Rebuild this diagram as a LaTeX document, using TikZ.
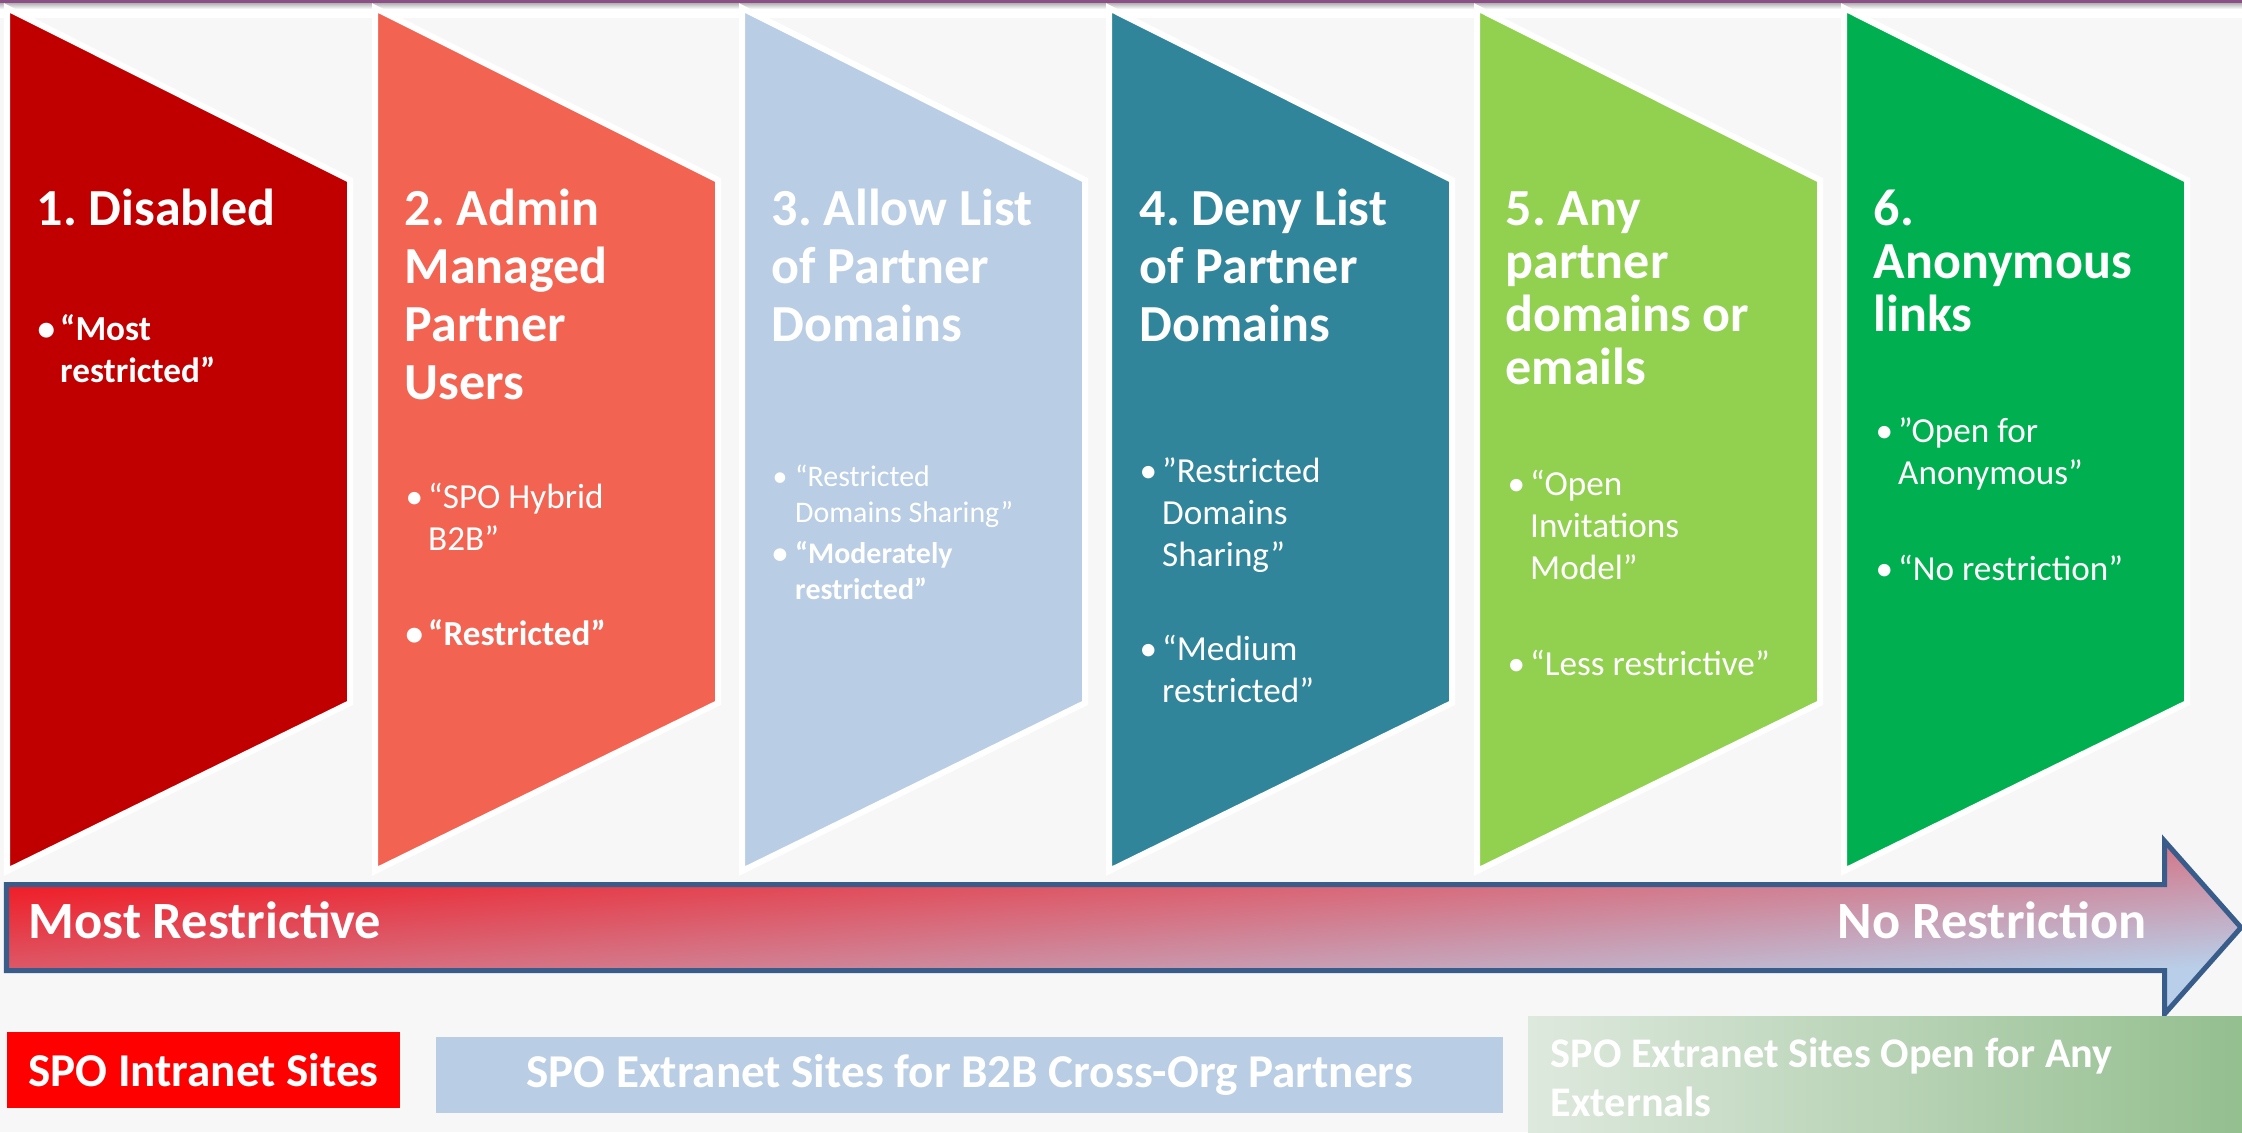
\documentclass[tikz,border=0pt]{standalone}
\usepackage{fontspec}
\setmainfont{Carlito}
\usepackage{tikz}
\usepackage{xcolor}
\usetikzlibrary{shapes,calc}
\definecolor{disred}{RGB}{192,0,0}
\definecolor{adminred}{RGB}{242,99,82}
\definecolor{allowblue}{RGB}{185,205,229}
\definecolor{denyteal}{RGB}{49,133,155}
\definecolor{anylime}{RGB}{146,208,80}
\definecolor{anongreen}{RGB}{0,176,80}
\definecolor{arrowline}{RGB}{56,93,138}
\definecolor{arrowred}{RGB}{238,34,44}
\definecolor{arrowmid}{RGB}{205,120,145}
\definecolor{arrowblue}{RGB}{185,206,232}
\definecolor{pagegray}{RGB}{247,247,247}
\definecolor{topline}{RGB}{140,80,135}
\definecolor{intrared}{RGB}{255,0,0}
\definecolor{palegreen}{RGB}{222,233,222}
\definecolor{sagegreen}{RGB}{147,190,142}
\frenchspacing

\newcommand{\lines}[1]{\parbox[t]{8cm}{\raggedright #1}}
\newcommand{\bul}[1]{\makebox[0.225cm][l]{\textbullet}\lines{#1}}
\newcommand{\titlefont}{\fontsize{14.8}{16.5}\selectfont\bfseries}
\newcommand{\bulfont}{\fontsize{10}{11.95}\selectfont}

\begin{document}
\begin{tikzpicture}[x=0.01cm, y=-0.01cm,
  panel/.style={draw=white, line width=0.06cm},
  title/.style={anchor=base west, inner sep=0, text=white, font=\titlefont},
  bullets/.style={anchor=base west, inner sep=0, text=white, font=\bulfont},
  arrowtext/.style={inner sep=0, text=white, font=\fontsize{14.9}{16}\selectfont\bfseries},
  sitebox/.style={inner sep=0, text=white, font=\fontsize{13.4}{15}\selectfont\bfseries}]
\useasboundingbox (0,0) rectangle (2242,1132);
\fill[pagegray] (0,0) rectangle (2242,1132);

% Top
\fill[white] (0,0) rectangle (2242,18);
\shade[top color=black!35, bottom color=white] (0,2) rectangle (2242,9);
\fill[topline] (0,0) rectangle (2242,2.5);

% Panels
\foreach \l/\c in {7/disred, 375/adminred, 742/allowblue, 1109/denyteal, 1477/anylime, 1844/anongreen}
  \draw[panel, fill=\c] (\l,8) -- ++(343,172) -- ++(0,523) -- ++(-343,168) -- cycle;

\node[title] (t1) at (36,225) {\lines{1. Disabled}};
\node[title] (t2) at (404,225) {\lines{2. Admin\\Managed\\Partner\\Users}};
\node[title] (t3) at (771,225) {\lines{3. Allow List\\of Partner\\Domains}};
\node[title] (t4) at (1139,225) {\lines{4. Deny List\\of Partner\\Domains}};
\node[title, font=\fontsize{14.8}{15.1}\selectfont\bfseries] (t5) at (1505,225) {\lines{5. Any\\partner\\domains or\\emails}};
\node[title, font=\fontsize{14.8}{15.1}\selectfont\bfseries] (t6) at (1873,225) {\lines{6.\\Anonymous\\links}};

\node[bullets] (b1) at (37,340) {\bfseries\bul{“Most\\restricted”}};
\node[bullets] (b2a) at (405,508) {\bul{“SPO Hybrid\\B2B”}};
\node[bullets] (b2b) at (405,645) {\bfseries\bul{“Restricted”}};
\node[bullets, font=\fontsize{8.5}{10.25}\selectfont] (b3a) at (772,486) {\bul{“Restricted\\Domains Sharing”}};
\node[bullets, font=\fontsize{8.5}{10.25}\selectfont] (b3b) at (772,563) {\bfseries\bul{“Moderately\\restricted”}};
\node[bullets] (b4a) at (1139,482) {\bul{”Restricted\\Domains\\Sharing”}};
\node[bullets] (b4b) at (1139,660) {\bul{“Medium\\restricted”}};
\node[bullets] (b5a) at (1507,495) {\bul{“Open\\Invitations\\Model”}};
\node[bullets] (b5b) at (1507,675) {\bul{“Less restrictive”}};
\node[bullets] (b6a) at (1875,442) {\bul{”Open for\\Anonymous”}};
\node[bullets] (b6b) at (1875,580) {\bul{“No restriction”}};

% Arrow
\coordinate (a1) at (6.5,884.5);
\coordinate (a2) at (2164.5,884.5);
\coordinate (a3) at (2164.5,841);
\coordinate (tip) at (2241,927.5);
\coordinate (a5) at (2164.5,1014);
\coordinate (a6) at (2164.5,970.5);
\coordinate (a7) at (6.5,970.5);
\begin{scope}
\clip (a1) -- (a2) -- (a3) -- (tip) -- (a5) -- (a6) -- (a7) -- cycle;
\shade[transform canvas={shift={(1124,927.5)}, xscale=22.4, yscale=1.75}, top color=arrowred, middle color=arrowmid, bottom color=arrowblue, shading angle=45] (-50,-50) rectangle (50,50);
\end{scope}
\draw[arrowline, line width=0.05cm] (a1) -- (a2) -- (a3) -- (tip) -- (a5) -- (a6) -- (a7) -- cycle;
\node[arrowtext, anchor=base west] (most) at (28,938) {Most Restrictive};
\node[arrowtext, anchor=base east] (none) at (2147,938) {No Restriction};

% Sites
\node[sitebox, fill=intrared, minimum width=3.93cm, minimum height=0.76cm] (intra) at (203.5,1070) {SPO Intranet Sites};
\node[sitebox, fill=allowblue, minimum width=10.67cm, minimum height=0.76cm] (extra) at (969.5,1075) {SPO Extranet Sites for B2B Cross-Org Partners};
\shade[left color=palegreen, right color=sagegreen] (1528,1016) rectangle (2250,1140);
\node[sitebox, anchor=base west, font=\fontsize{12}{14.2}\selectfont\bfseries] (open) at (1550,1067) {\lines{SPO Extranet Sites Open for Any\\Externals}};
\end{tikzpicture}
\end{document}
